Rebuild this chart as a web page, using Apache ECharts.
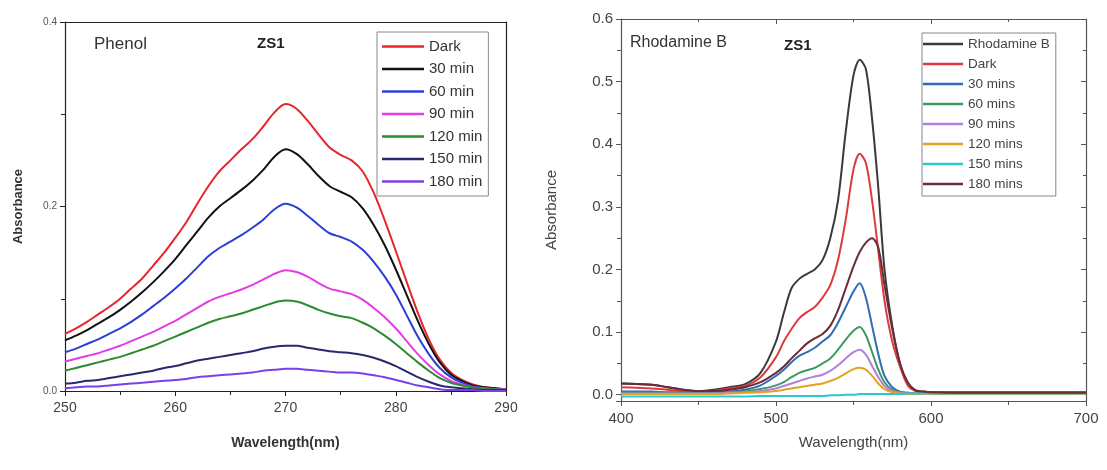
<!DOCTYPE html>
<html lang="en">
<head>
  <meta charset="UTF-8">
  <title>ZS1 absorbance</title>
  <script src="https://cdn.jsdelivr.net/npm/echarts@6/dist/echarts.min.js"></script>
</head>
<body style="margin:0;background:#fff;">
  <div id="main" style="width:1107px;height:470px;"></div>
  <script type="text/javascript">
    // ---- left panel: phenol, 250-290 nm, 1 nm steps
    var phWave = [];
    for (var w = 250; w <= 290; w++) phWave.push(w);
    var phNames = ['Dark', '30 min', '60 min', '90 min', '120 min', '150 min', '180 min'];
    var phColors = ['#e8262a', '#111111', '#2b3fd8', '#e33ce6', '#2c8a2f', '#272a6e', '#7b3fe6'];
    var phDark = [0.062, 0.068, 0.075, 0.083, 0.091, 0.100, 0.111, 0.122, 0.136, 0.150, 0.166, 0.183, 0.203, 0.222, 0.238, 0.250, 0.262, 0.273, 0.287, 0.302, 0.311,
      0.306, 0.293, 0.278, 0.264, 0.256, 0.250, 0.238, 0.215, 0.185, 0.152, 0.118, 0.085, 0.056, 0.034, 0.020, 0.012, 0.007, 0.004, 0.003, 0.002];
    var ph30 = [0.055, 0.060, 0.066, 0.073, 0.080, 0.088, 0.097, 0.107, 0.118, 0.130, 0.143, 0.158, 0.173, 0.188, 0.200, 0.209, 0.218, 0.228, 0.240, 0.254, 0.262,
      0.257, 0.246, 0.233, 0.222, 0.216, 0.210, 0.198, 0.180, 0.158, 0.132, 0.104, 0.076, 0.051, 0.031, 0.018, 0.011, 0.006, 0.004, 0.003, 0.002];
    var ph60 = [0.042, 0.046, 0.051, 0.056, 0.062, 0.068, 0.075, 0.083, 0.092, 0.101, 0.111, 0.122, 0.134, 0.146, 0.155, 0.162, 0.169, 0.177, 0.186, 0.197, 0.203,
      0.199, 0.190, 0.180, 0.171, 0.167, 0.162, 0.153, 0.140, 0.124, 0.105, 0.082, 0.059, 0.040, 0.025, 0.015, 0.009, 0.005, 0.003, 0.002, 0.002];
    var ph90 = [0.032, 0.035, 0.038, 0.041, 0.045, 0.049, 0.054, 0.059, 0.064, 0.070, 0.076, 0.083, 0.090, 0.097, 0.102, 0.106, 0.110, 0.115, 0.121, 0.127, 0.131,
      0.129, 0.124, 0.117, 0.111, 0.108, 0.105, 0.099, 0.090, 0.080, 0.068, 0.054, 0.040, 0.028, 0.018, 0.011, 0.007, 0.004, 0.003, 0.002, 0.002];
    var ph120 = [0.022, 0.025, 0.028, 0.031, 0.034, 0.037, 0.041, 0.045, 0.049, 0.054, 0.059, 0.064, 0.069, 0.074, 0.078, 0.081, 0.084, 0.088, 0.092, 0.096, 0.098,
      0.097, 0.093, 0.088, 0.084, 0.081, 0.079, 0.074, 0.068, 0.060, 0.051, 0.041, 0.031, 0.022, 0.014, 0.009, 0.006, 0.004, 0.002, 0.002, 0.001];
    var ph150 = [0.008, 0.009, 0.011, 0.012, 0.014, 0.016, 0.018, 0.020, 0.022, 0.025, 0.027, 0.030, 0.033, 0.035, 0.037, 0.039, 0.041, 0.043, 0.046, 0.048, 0.049,
      0.049, 0.047, 0.045, 0.043, 0.042, 0.041, 0.039, 0.036, 0.032, 0.027, 0.021, 0.015, 0.010, 0.006, 0.004, 0.003, 0.002, 0.001, 0.001, 0.001];
    var ph180 = [0.003, 0.004, 0.005, 0.005, 0.006, 0.007, 0.008, 0.009, 0.010, 0.011, 0.012, 0.013, 0.015, 0.016, 0.017, 0.018, 0.019, 0.020, 0.022, 0.023, 0.024,
      0.024, 0.023, 0.022, 0.021, 0.020, 0.020, 0.019, 0.017, 0.015, 0.012, 0.009, 0.006, 0.004, 0.002, 0.001, 0.001, 0.001, 0.000, 0.000, 0.000];
    var phSets = [phDark, ph30, ph60, ph90, ph120, ph150, ph180];

    // ---- right panel: rhodamine B, 400-700 nm
    var rbWave = [400, 410, 420, 430, 440, 450, 460, 470, 480, 490, 500, 505, 510, 515, 520, 525, 530, 535, 540, 545,
      550, 554, 558, 562, 566, 570, 575, 580, 585, 590, 595, 600, 620, 650, 700];
    var rbNames = ['Rhodamine B', 'Dark', '30 mins', '60 mins', '90 mins', '120 mins', '150 mins', '180 mins'];
    var rbColors = ['#3a3a3a', '#dc3b3e', '#2f6db5', '#3d9a62', '#b47fd9', '#e3a322', '#2cc9cb', '#6a2b3c'];
    var rbRhB = [0.018, 0.017, 0.016, 0.012, 0.008, 0.006, 0.008, 0.012, 0.017, 0.035, 0.085, 0.130, 0.170, 0.185, 0.193, 0.200, 0.215, 0.250, 0.310, 0.420,
      0.510, 0.535, 0.520, 0.440, 0.330, 0.200, 0.110, 0.050, 0.018, 0.007, 0.005, 0.004, 0.004, 0.004, 0.004];
    var rbDark = [0.012, 0.011, 0.010, 0.008, 0.006, 0.005, 0.006, 0.010, 0.014, 0.028, 0.060, 0.085, 0.105, 0.122, 0.132, 0.140, 0.155, 0.175, 0.215, 0.280,
      0.360, 0.385, 0.370, 0.310, 0.230, 0.150, 0.085, 0.045, 0.015, 0.006, 0.004, 0.003, 0.003, 0.003, 0.003];
    var rb30 = [0.005, 0.005, 0.005, 0.004, 0.004, 0.004, 0.004, 0.005, 0.008, 0.015, 0.030, 0.040, 0.052, 0.062, 0.068, 0.075, 0.085, 0.095, 0.115, 0.140,
      0.165, 0.178, 0.155, 0.110, 0.065, 0.030, 0.012, 0.005, 0.003, 0.002, 0.002, 0.002, 0.002, 0.002, 0.002];
    var rb60 = [0.003, 0.003, 0.003, 0.003, 0.003, 0.003, 0.003, 0.004, 0.005, 0.009, 0.015, 0.020, 0.028, 0.035, 0.039, 0.043, 0.050, 0.058, 0.072, 0.088,
      0.102, 0.108, 0.095, 0.068, 0.040, 0.020, 0.008, 0.004, 0.003, 0.002, 0.002, 0.002, 0.002, 0.002, 0.002];
    var rb90 = [0.002, 0.002, 0.002, 0.002, 0.002, 0.002, 0.002, 0.003, 0.004, 0.006, 0.010, 0.014, 0.018, 0.022, 0.026, 0.029, 0.032, 0.038, 0.047, 0.058,
      0.068, 0.072, 0.064, 0.046, 0.028, 0.014, 0.006, 0.003, 0.002, 0.002, 0.002, 0.002, 0.002, 0.002, 0.002];
    var rb120 = [0.001, 0.001, 0.001, 0.001, 0.001, 0.001, 0.001, 0.002, 0.003, 0.004, 0.006, 0.008, 0.010, 0.012, 0.014, 0.016, 0.018, 0.022, 0.027, 0.034,
      0.041, 0.043, 0.040, 0.030, 0.018, 0.009, 0.004, 0.002, 0.001, 0.001, 0.001, 0.001, 0.001, 0.001, 0.001];
    var rb150 = [-0.003, -0.003, -0.003, -0.003, -0.003, -0.003, -0.003, -0.003, -0.003, -0.002, -0.002, -0.002, -0.002, -0.002, -0.002, -0.002, -0.002, -0.001, -0.001, 0.000,
      0.000, 0.001, 0.001, 0.001, 0.001, 0.001, 0.001, 0.001, 0.002, 0.002, 0.002, 0.002, 0.002, 0.002, 0.002];
    var rb180 = [0.018, 0.017, 0.016, 0.012, 0.008, 0.006, 0.006, 0.008, 0.012, 0.020, 0.035, 0.045, 0.058, 0.070, 0.082, 0.090, 0.097, 0.110, 0.135, 0.170,
      0.205, 0.228, 0.243, 0.250, 0.235, 0.175, 0.105, 0.050, 0.020, 0.007, 0.005, 0.004, 0.003, 0.003, 0.003];
    var rbSets = [rbRhB, rbDark, rb30, rb60, rb90, rb120, rb150, rb180];

    function pairs(xs, ys) {
      return xs.map(function (x, i) { return [x, ys[i]]; });
    }

    var myChart = echarts.init(document.getElementById('main'));
    var series = [];
    phSets.forEach(function (ys, i) {
      series.push({
        name: phNames[i], type: 'line', xAxisIndex: 0, yAxisIndex: 0,
        data: pairs(phWave, ys), symbol: 'none', smooth: 0.3,
        lineStyle: { width: 2, color: phColors[i] }, itemStyle: { color: phColors[i] }
      });
    });
    // right-panel "Dark" gets a trailing space so the two legends stay apart
    rbSets.forEach(function (ys, i) {
      series.push({
        name: rbNames[i] + (i === 1 ? ' ' : ''), type: 'line', xAxisIndex: 2, yAxisIndex: 2,
        data: pairs(rbWave, ys), symbol: 'none', smooth: 0.3,
        lineStyle: { width: 2, color: rbColors[i] }, itemStyle: { color: rbColors[i] }
      });
    });

    var leftLine = { show: true, onZero: false, lineStyle: { color: '#222', width: 1.2 } };
    var rightLine = { show: true, onZero: false, lineStyle: { color: '#555', width: 1.2 } };
    function isTenth(v) { return Math.abs(v * 10 - Math.round(v * 10)) < 1e-6; }

    option = {
      animation: false,
      grid: [
        { left: 65, top: 22, width: 441, height: 369 },
        { left: 621, top: 19, width: 465, height: 382 }
      ],
      title: [
        { text: 'Phenol', left: 94, top: 36, padding: 0, textStyle: { fontSize: 17, fontWeight: 'normal', color: '#333', fontFamily: 'Liberation Sans' } },
        { text: 'ZS1', left: 257, top: 36, padding: 0, textStyle: { fontSize: 15, fontWeight: 'bold', color: '#222', fontFamily: 'Liberation Sans' } },
        { text: 'Rhodamine B', left: 630, top: 35, padding: 0, textStyle: { fontSize: 16, fontWeight: 'normal', color: '#333', fontFamily: 'Liberation Sans' } },
        { text: 'ZS1', left: 784, top: 38, padding: 0, textStyle: { fontSize: 15, fontWeight: 'bold', color: '#222', fontFamily: 'Liberation Sans' } }
      ],
      legend: [
        {
          orient: 'vertical', left: 377, top: 32, icon: 'rect', itemWidth: 42, itemHeight: 2.5, itemGap: 7.5,
          padding: [7, 6, 7, 5], borderColor: '#888', borderWidth: 1,
          data: phNames,
          textStyle: { fontSize: 15, lineHeight: 15, color: '#333', fontFamily: 'Liberation Sans' }
        },
        {
          orient: 'vertical', left: 922, top: 33, icon: 'rect', itemWidth: 40, itemHeight: 2.5, itemGap: 6,
          padding: [4, 6, 5, 1], borderColor: '#888', borderWidth: 1,
          data: rbNames.map(function (n, i) { return n + (i === 1 ? ' ' : ''); }),
          textStyle: { fontSize: 13.5, lineHeight: 13, color: '#444', fontFamily: 'Liberation Sans' }
        }
      ],
      xAxis: [
        {
          type: 'value', gridIndex: 0, min: 250, max: 290, interval: 10,
          name: 'Wavelength(nm)', nameLocation: 'middle', nameGap: 45,
          nameTextStyle: { fontSize: 14, fontWeight: 'bold', color: '#333', fontFamily: 'Liberation Sans' },
          axisLine: leftLine, axisTick: { inside: false, length: 5, lineStyle: { color: '#222' } },
          minorTick: { show: true, splitNumber: 2, length: 4, lineStyle: { color: '#222' } },
          axisLabel: { fontSize: 14, color: '#444', margin: 10, fontFamily: 'Liberation Sans' },
          splitLine: { show: false }
        },
        {
          type: 'value', gridIndex: 0, position: 'top', min: 250, max: 290, interval: 10,
          axisLine: leftLine, axisTick: { show: false }, axisLabel: { show: false }, splitLine: { show: false }
        },
        {
          type: 'value', gridIndex: 1, min: 400, max: 700, interval: 100,
          name: 'Wavelength(nm)', nameLocation: 'middle', nameGap: 34,
          nameTextStyle: { fontSize: 15, color: '#444', fontFamily: 'Liberation Sans' },
          axisLine: rightLine, axisTick: { inside: false, length: 5, lineStyle: { color: '#555' } },
          minorTick: { show: true, splitNumber: 2, length: 4, lineStyle: { color: '#555' } },
          axisLabel: { fontSize: 15, color: '#444', margin: 10, fontFamily: 'Liberation Sans' },
          splitLine: { show: false }
        },
        {
          type: 'value', gridIndex: 1, position: 'top', min: 400, max: 700, interval: 100,
          axisLine: rightLine, axisTick: { inside: true, length: 5, lineStyle: { color: '#555' } },
          minorTick: { show: true, splitNumber: 2, length: 3, lineStyle: { color: '#555' } },
          axisLabel: { show: false }, splitLine: { show: false }
        }
      ],
      yAxis: [
        {
          type: 'value', gridIndex: 0, min: 0, max: 0.4, interval: 0.2,
          name: 'Absorbance', nameLocation: 'middle', nameGap: 40,
          nameTextStyle: { fontSize: 13, fontWeight: 'bold', color: '#333', fontFamily: 'Liberation Sans' },
          axisLine: leftLine, axisTick: { inside: false, length: 5, lineStyle: { color: '#222' } },
          minorTick: { show: true, splitNumber: 2, length: 4, lineStyle: { color: '#222' } },
          axisLabel: { fontSize: 10, color: '#555', margin: 8, fontFamily: 'Liberation Sans', formatter: function (v) { return v.toFixed(1); } },
          splitLine: { show: false }
        },
        {
          type: 'value', gridIndex: 0, position: 'right', min: 0, max: 0.4, interval: 0.2,
          axisLine: leftLine, axisTick: { show: false }, axisLabel: { show: false }, splitLine: { show: false }
        },
        {
          type: 'value', gridIndex: 1, min: -0.01, max: 0.6, splitNumber: 6,
          name: 'Absorbance', nameLocation: 'middle', nameGap: 62,
          nameTextStyle: { fontSize: 15, color: '#444', fontFamily: 'Liberation Sans' },
          axisLine: rightLine, axisTick: { inside: false, length: 5, lineStyle: { color: '#555' } },
          minorTick: { show: true, splitNumber: 2, length: 4, lineStyle: { color: '#555' } },
          axisLabel: {
            fontSize: 15, color: '#444', margin: 8, fontFamily: 'Liberation Sans',
            formatter: function (v) { return isTenth(v) ? v.toFixed(1) : ''; }
          },
          splitLine: { show: false }
        },
        {
          type: 'value', gridIndex: 1, position: 'right', min: -0.01, max: 0.6, splitNumber: 6,
          axisLine: rightLine, axisTick: { inside: true, length: 5, lineStyle: { color: '#555' } },
          minorTick: { show: true, splitNumber: 2, length: 3, lineStyle: { color: '#555' } },
          axisLabel: { show: false }, splitLine: { show: false }
        }
      ],
      series: series
    };
    myChart.setOption(option);
  </script>
</body>
</html>
